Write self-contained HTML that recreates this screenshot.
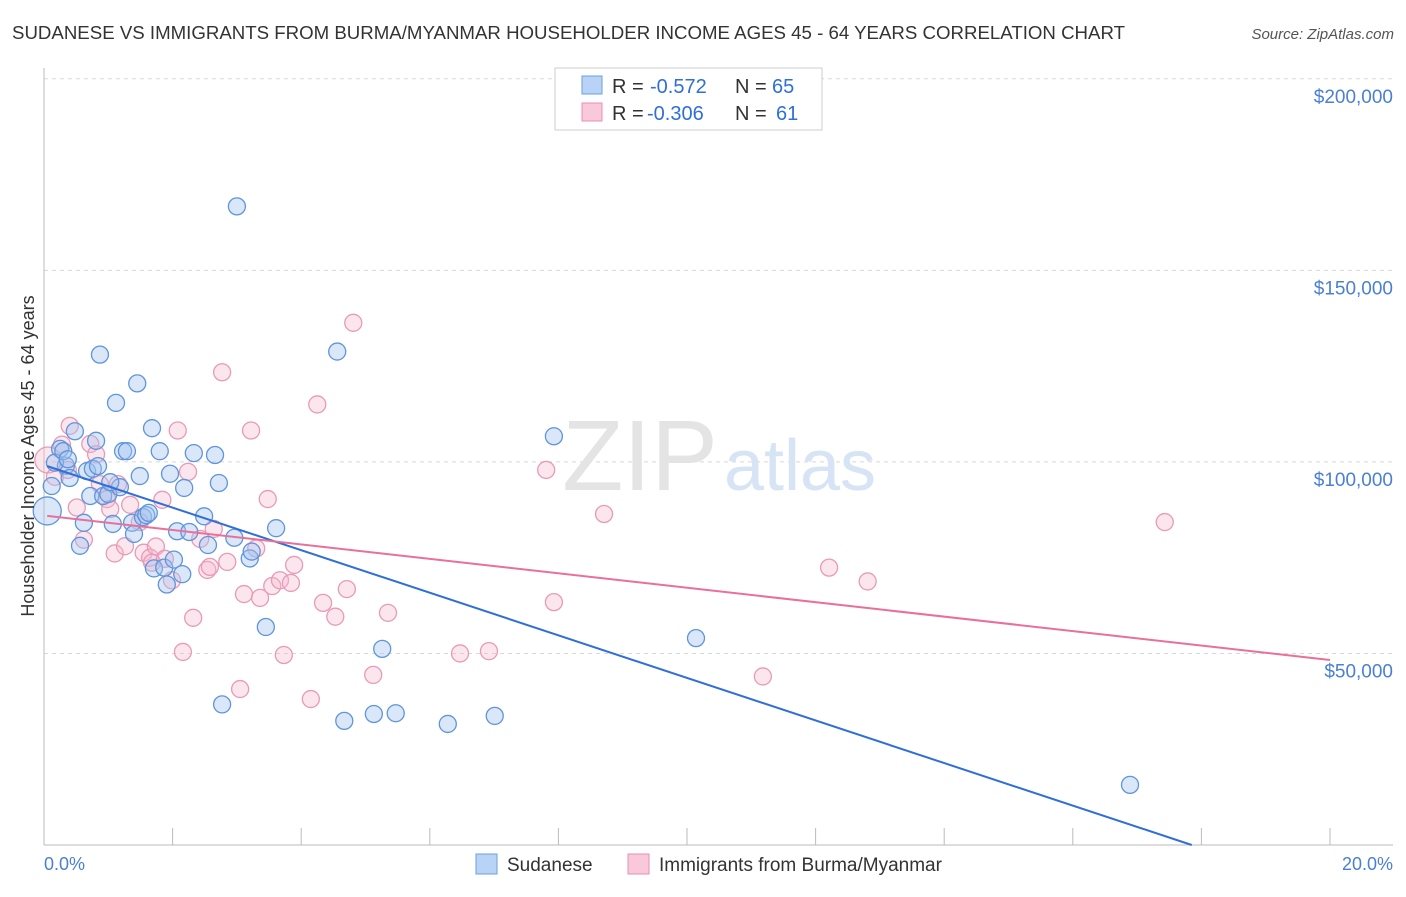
<!DOCTYPE html>
<html><head><meta charset="utf-8"><style>
body{margin:0;background:#fff;font-family:"Liberation Sans",sans-serif;}
svg text{font-family:"Liberation Sans",sans-serif;}
</style></head><body>
<svg width="1406" height="892">
<text x="12" y="39" font-size="18" fill="#333" textLength="1113" lengthAdjust="spacingAndGlyphs">SUDANESE VS IMMIGRANTS FROM BURMA/MYANMAR HOUSEHOLDER INCOME AGES 45 - 64 YEARS CORRELATION CHART</text>
<text x="1394" y="39" font-size="15" fill="#555" text-anchor="end" font-style="italic">Source: ZipAtlas.com</text>
<g id="grid"></g>
<text x="640" y="490" font-size="100" fill="#e4e4e4" text-anchor="middle" font-family="Liberation Serif">ZIP</text>
<text x="800" y="490" font-size="72" fill="#d6e4f5" text-anchor="middle">atlas</text>
<g id="pts"></g>
<g id="lines"></g>
<text transform="translate(34,456) rotate(-90)" font-size="18" fill="#333" text-anchor="middle">Householder Income Ages 45 - 64 years</text>
<text x="44" y="870" font-size="18" fill="#4a7fd4">0.0%</text>
<text x="1393" y="870" font-size="18" fill="#4a7fd4" text-anchor="end">20.0%</text>
<g>
<rect x="555" y="68" width="267" height="62" fill="#fff" stroke="#ccc"/>
<rect x="582" y="76" width="20" height="18" fill="#b8d3f5" stroke="#6a9fe0"/>
<rect x="582" y="103" width="20" height="18" fill="#f9c8da" stroke="#e891b0"/>
<text x="612" y="93" font-size="20" fill="#333">R =</text>
<text x="650" y="93" font-size="20" fill="#2f6fd6">-0.572</text>
<text x="735" y="93" font-size="20" fill="#333">N =</text>
<text x="772" y="93" font-size="20" fill="#2f6fd6">65</text>
<text x="612" y="120" font-size="20" fill="#333">R =</text>
<text x="647" y="120" font-size="20" fill="#2f6fd6">-0.306</text>
<text x="735" y="120" font-size="20" fill="#333">N =</text>
<text x="776" y="120" font-size="20" fill="#2f6fd6">61</text>
</g>
<g>
<rect x="476" y="854" width="21" height="20" fill="#b8d3f5" stroke="#6a9fe0"/>
<text x="507" y="871" font-size="19" fill="#333">Sudanese</text>
<rect x="628" y="854" width="21" height="20" fill="#f9c8da" stroke="#e891b0"/>
<text x="659" y="871" font-size="19" fill="#333">Immigrants from Burma/Myanmar</text>
</g>
</svg>
<script>
const yTicks=[50000,100000,150000,200000];
const yTickLabels=["$50,000","$100,000","$150,000","$200,000"];
const xTicks=[0,2,4,6,8,10,12,14,16,18,20];
const blueX=[0.05,0.12,0.25,0.34,0.4,0.48,0.56,0.62,0.67,0.72,0.76,0.81,0.87,0.92,1.0,1.07,1.12,1.18,1.23,1.29,1.37,1.4,1.45,1.49,1.54,1.59,1.63,1.68,1.71,1.8,1.87,1.91,1.96,2.02,2.07,2.15,2.18,2.26,2.33,2.49,2.55,2.66,2.72,2.77,2.96,3.0,3.2,3.23,3.45,3.61,4.56,4.67,5.13,5.26,5.47,6.28,7.01,7.93,10.14,16.89,0.17,0.3,0.37,0.84,1.03];
const blueY=[87.2,93.7,103.4,99,95.8,108,78.1,84.1,97.6,91.1,98.2,105.5,128,91.1,91.6,83.8,115.4,93.4,102.8,102.8,84.1,81.2,120.5,96.3,85.6,86.1,86.7,108.8,72.2,102.8,72.4,68,96.9,74.5,81.9,70.7,93.2,81.7,102.3,85.8,78.3,101.8,94.5,36.7,80.2,166.7,74.8,76.6,56.9,82.7,128.8,32.4,34.2,51.2,34.4,31.6,33.7,106.7,54,15.7,99.8,102.8,100.7,98.9,94.7];
const pinkX=[0.06,0.17,0.28,0.37,0.4,0.51,0.62,0.72,0.81,0.87,0.98,1.03,1.1,1.15,1.26,1.34,1.49,1.55,1.65,1.68,1.74,1.84,1.88,1.99,2.08,2.24,2.32,2.16,2.43,2.54,2.58,2.64,2.77,2.85,3.05,3.11,3.22,3.3,3.36,3.48,3.55,3.67,3.73,3.84,3.89,4.15,4.25,4.34,4.53,4.71,4.81,5.12,5.35,6.47,6.92,7.81,7.93,8.71,11.18,12.21,12.81,17.43];
const pinkY=[100.5,96.1,104.5,97.9,109.4,88.1,79.7,104.7,102,94.2,90.3,87.7,76.1,94.2,78,88.8,84.3,76.3,75,73.7,77.9,90.1,74.7,69.1,108.2,97.4,59.3,50.4,79.9,71.8,72.6,82.5,123.4,73.9,40.7,65.5,108.2,77.4,64.5,90.3,67.6,69.1,49.6,68.4,73.1,38.1,115,63.2,59.6,66.8,136.3,44.4,60.6,50,50.6,97.9,63.4,86.4,44,72.4,68.8,84.3];
const blueTrend=[98.9,0]; const blueTrendX=[0,17.85];
const pinkTrend=[85.9,48.3]; const pinkTrendX=[0,20];
const NS="http://www.w3.org/2000/svg";
const X=v=>44+v*64.3, Y=v=>845-v*3.831;
function mk(t,a,p){const e=document.createElementNS(NS,t);for(const k in a)e.setAttribute(k,a[k]);document.getElementById(p).appendChild(e);return e;}
yTicks.forEach((t,i)=>{
 const l=mk('line',{x1:44,x2:1393,y1:Y(t/1000),y2:Y(t/1000),stroke:'#d8d8d8','stroke-dasharray':'4,4'},'grid');
 
 
 const tx=mk('text',{x:1393,y:Y(t/1000)+24,'font-size':19,fill:'#4a7fd4','text-anchor':'end'},'grid');
 tx.textContent=yTickLabels[i];
 
 
});
mk('line',{x1:44,x2:44,y1:68,y2:845,stroke:'#bbb'},'grid');
mk('line',{x1:44,x2:1393,y1:845,y2:845,stroke:'#bbb'},'grid');
xTicks.forEach(t=>{const l=mk('line',{x1:X(t),x2:X(t),y1:828,y2:845,stroke:'#bbb'},'grid');
 
 });
pinkX.forEach((x,i)=>{const c=mk('circle',{cx:X(x),cy:Y(pinkY[i]),r:i==0?13:8.5,fill:'rgba(246,182,206,0.35)',stroke:'#e89ab6','stroke-width':1.3},'pts');
 
 });
blueX.forEach((x,i)=>{const c=mk('circle',{cx:X(x),cy:Y(blueY[i]),r:i==0?14:8.5,fill:'rgba(160,195,240,0.4)',stroke:'#5f95db','stroke-width':1.3},'pts');
 
 });
const bl=mk('line',{x1:X(blueTrendX[0]+0.05),y1:Y(blueTrend[0]),x2:X(blueTrendX[1]),y2:Y(blueTrend[1]),stroke:'#2f6fd6','stroke-width':2},'lines');


const pl=mk('line',{x1:X(pinkTrendX[0]+0.05),y1:Y(pinkTrend[0]),x2:X(pinkTrendX[1]),y2:Y(pinkTrend[1]),stroke:'#e8709a','stroke-width':2},'lines');


</script>
</body></html>
